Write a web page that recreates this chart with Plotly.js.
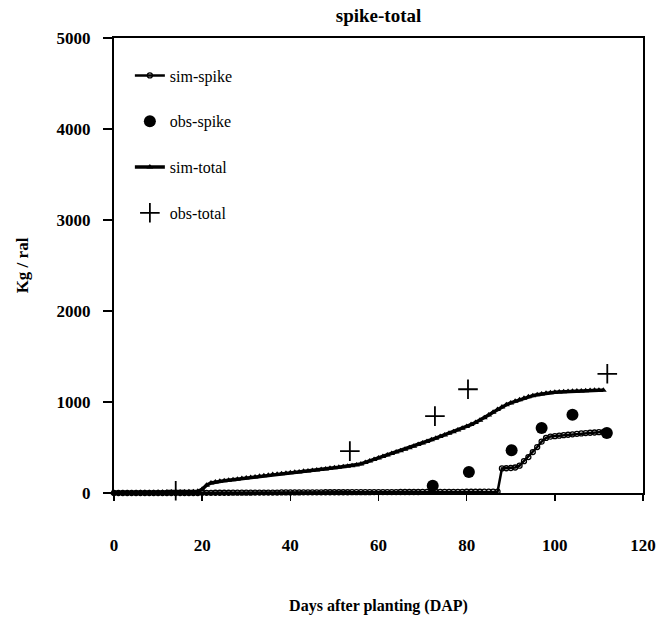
<!DOCTYPE html>
<html>
<head>
<meta charset="utf-8">
<script src="https://cdn.plot.ly/plotly-3.0.1.min.js"></script>
<style>html,body{margin:0;padding:0;background:#fff;}#chart{width:656px;height:619px;}</style>
</head>
<body>
<div id="chart"></div>
<script>
// Simulated daily series (days after planting)
const simDays = [0,1,2,3,4,5,6,7,8,9,10,11,12,13,14,15,16,17,18,19,
  20,21,22,23,24,25,26,27,28,29,30,31,32,33,34,35,36,37,38,39,
  40,41,42,43,44,45,46,47,48,49,50,51,52,53,54,55,56,57,58,59,
  60,61,62,63,64,65,66,67,68,69,70,71,72,73,74,75,76,77,78,79,
  80,81,82,83,84,85,86,87,88,89,90,91,92,93,94,95,96,97,98,99,
  100,101,102,103,104,105,106,107,108,109,110,111];
const simSpike = [0,0,0,0,0,0,0,0,0,0,0,0,0,0,0,0,0,0,0,0,
  2,2,2,3,3,3,3,4,4,4,4,4,5,5,5,5,5,5,6,6,
  6,6,6,7,7,7,7,7,8,8,8,8,8,8,9,9,9,9,9,10,
  10,10,10,10,10,11,11,11,11,11,12,12,12,12,12,13,13,13,13,13,
  14,14,14,14,15,15,15,15,270,272,275,280,300,350,395,450,505,565,605,620,
  625,630,635,640,645,650,655,658,662,665,668,670];
const simTotal = [0,0,2,3,3,4,5,5,6,6,8,8,9,10,10,12,12,14,15,18,
  40,85,110,120,128,135,140,146,152,158,164,170,176,183,190,196,202,207,212,217,
  222,227,232,238,243,248,254,259,265,271,277,283,289,295,300,308,320,336,352,368,
  385,400,418,435,450,465,482,498,515,532,550,567,585,602,620,638,656,674,693,712,
  732,752,775,800,828,858,888,918,945,970,990,1008,1025,1042,1058,1070,1080,1088,1095,1101,
  1106,1110,1113,1116,1118,1120,1122,1124,1126,1128,1129,1130];

// Observations
const obsSpikeDays = [72.3, 80.5, 90.2, 97, 104, 111.8];
const obsSpike = [80, 230, 470, 715, 860, 660];
const obsTotalDays = [14, 53.5, 72.8, 80.3, 111.9];
const obsTotal = [25, 460, 845, 1140, 1310];

const xTicks = [0, 20, 40, 60, 80, 100, 120];
const yTicks = [0, 1000, 2000, 3000, 4000, 5000];

const serif = "Liberation Serif, Times New Roman, serif";

const traces = [
  {x: simDays, y: simSpike, name: 'sim-spike', mode: 'lines+markers', legendgroup: 'a',
   line: {color: '#000', width: 2.5},
   marker: {symbol: 'circle-open', size: 5, color: '#000', line: {width: 1.3, color: '#000'}}, cliponaxis: false},
  {x: obsSpikeDays, y: obsSpike, name: 'obs-spike', mode: 'markers', legendgroup: 'b',
   marker: {symbol: 'circle', size: 12, color: '#000'}, cliponaxis: false},
  {x: simDays, y: simTotal, name: 'sim-total', mode: 'lines+markers', legendgroup: 'c',
   line: {color: '#000', width: 3.5},
   marker: {symbol: 'triangle-up', size: 6, color: '#000'}, cliponaxis: false},
  {x: obsTotalDays, y: obsTotal, name: 'obs-total', mode: 'markers', legendgroup: 'd',
   marker: {symbol: 'cross-thin-open', size: 14, color: '#000', line: {width: 1.8, color: '#000'}}, cliponaxis: false}
];

const layout = {
  width: 656, height: 619,
  margin: {l: 114, r: 13, t: 38, b: 126},
  paper_bgcolor: '#fff', plot_bgcolor: '#fff',
  font: {family: serif, color: '#000'},
  title: {text: '<b>spike-total</b>', font: {family: serif, size: 19, color: '#000'},
          x: 0.5, xref: 'paper', xanchor: 'center', y: 0.976, yanchor: 'middle'},
  showlegend: true,
  legend: {x: 0.03, y: 0.955, xanchor: 'left', yanchor: 'top', bgcolor: 'rgba(0,0,0,0)',
           font: {family: serif, size: 16, color: '#000'}, tracegroupgap: 22, traceorder: 'grouped'},
  xaxis: {range: [0, 120], tickvals: xTicks, ticktext: xTicks.map(String),
          showgrid: false, zeroline: false, showline: true, linecolor: '#000', linewidth: 2, mirror: true,
          ticks: 'outside', ticklen: 6, tickwidth: 1.5, tickcolor: '#000',
          ticklabelstandoff: 30,
          tickfont: {family: serif, size: 17, color: '#000', weight: 'bold'},
          title: {text: '<b>Days after planting (DAP)</b>', font: {family: serif, size: 16, color: '#000'}, standoff: 45}},
  yaxis: {range: [0, 5000], tickvals: yTicks, ticktext: yTicks.map(String),
          showgrid: false, zeroline: false, showline: true, linecolor: '#000', linewidth: 2, mirror: true,
          ticks: 'outside', ticklen: 9, tickwidth: 1.5, tickcolor: '#000',
          ticklabelstandoff: 9,
          tickfont: {family: serif, size: 17, color: '#000', weight: 'bold'},
          title: {text: '<b>Kg / ral</b>', font: {family: serif, size: 17, color: '#000'}, standoff: 24}}
};

Plotly.newPlot('chart', traces, layout, {displayModeBar: false, staticPlot: true});
</script>
</body>
</html>
